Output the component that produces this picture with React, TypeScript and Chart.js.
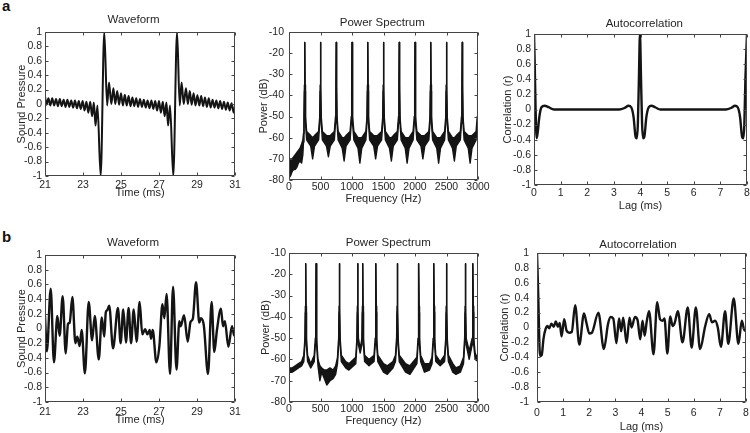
import React, { useEffect, useRef } from 'react';
import { Chart, registerables } from 'chart.js';

Chart.register(...registerables);

const FONT = "'Liberation Sans', Arial, Helvetica, sans-serif";
const TEXT = '#262626';
const INK = '#141414';

// ---------- Row a: periodic pulse train ----------
const waveA_t = [21.00,21.08,21.18,21.28,21.38,21.48,21.58,21.68,21.78,21.88,21.98,22.08,22.18,22.28,22.38,22.48,22.58,22.68,22.78,22.88,22.98,23.08,23.18,23.28,23.38,23.48,23.57,23.66,23.76,23.93,24.12,24.27,24.37,24.49,24.60,24.70,24.80,24.90,25.00,25.10,25.20,25.30,25.40,25.50,25.60,25.70,25.80,25.90,26.00,26.10,26.20,26.30,26.40,26.50,26.60,26.70,26.80,26.90,27.00,27.10,27.20,27.30,27.39,27.48,27.58,27.75,27.95,28.09,28.19,28.30,28.42,28.52,28.62,28.72,28.82,28.92,29.02,29.12,29.22,29.32,29.42,29.52,29.62,29.72,29.82,29.92,30.02,30.12,30.22,30.32,30.42,30.52,30.62,30.72,30.82,30.93,31.00];
const waveA_y = [0.11,-0.01,0.08,-0.02,0.08,-0.02,0.07,-0.03,0.07,-0.03,0.06,-0.04,0.06,-0.04,0.05,-0.05,0.05,-0.06,0.04,-0.07,0.04,-0.09,0.03,-0.12,0.03,-0.17,0.02,-0.30,-0.02,-1.00,1.00,-0.02,0.30,0.00,0.22,0.00,0.18,-0.01,0.15,-0.02,0.13,-0.02,0.11,-0.03,0.09,-0.03,0.08,-0.04,0.07,-0.04,0.06,-0.05,0.05,-0.06,0.05,-0.07,0.04,-0.09,0.04,-0.12,0.03,-0.17,0.02,-0.30,-0.02,-1.00,1.00,-0.02,0.30,0.00,0.22,0.00,0.18,-0.01,0.15,-0.02,0.12,-0.02,0.11,-0.03,0.09,-0.04,0.08,-0.05,0.06,-0.05,0.05,-0.06,0.04,-0.07,0.03,-0.08,0.02,-0.09,0.01,-0.12,-0.03];

const specA_f = [0,25,50,75,100,125,150,175,200,220,230,
  238,245,250,255,262,280,345,375,405,470,
  488,495,500,505,512,530,595,625,655,720,
  738,745,750,755,762,780,845,875,905,970,
  988,995,1000,1005,1012,1030,1095,1125,1155,1220,
  1238,1245,1250,1255,1262,1280,1345,1375,1405,1470,
  1488,1495,1500,1505,1512,1530,1595,1625,1655,1720,
  1738,1745,1750,1755,1762,1780,1845,1875,1905,1970,
  1988,1995,2000,2005,2012,2030,2095,2125,2155,2220,
  2238,2245,2250,2255,2262,2280,2345,2375,2405,2470,
  2488,2495,2500,2505,2512,2530,2595,2625,2655,2720,
  2738,2745,2750,2755,2762,2780,2845,2875,2905,2970,
  2988,2995,3000];
const specA_hi = [-72,-70,-70,-69,-68,-67,-66,-65,-63,-61,-58,
  -50,-35,-15,-35,-50,-57,-59,-60,-59,-57,
  -50,-35,-15,-35,-50,-57,-59,-59,-59,-57,
  -50,-35,-15,-35,-50,-57,-60,-60,-59,-57,
  -50,-35,-15,-35,-50,-57,-60,-60,-60,-57,
  -50,-35,-15,-35,-50,-57,-59,-59,-59,-57,
  -50,-35,-15,-35,-50,-57,-60,-60,-59,-57,
  -50,-35,-15,-35,-50,-57,-60,-60,-60,-57,
  -50,-35,-15,-35,-50,-57,-59,-59,-59,-57,
  -50,-35,-15,-35,-50,-57,-60,-60,-60,-57,
  -50,-35,-15,-35,-50,-57,-60,-60,-59,-57,
  -50,-35,-15,-35,-50,-57,-59,-59,-59,-57,
  -50,-35,-15];
const specA_lo = [-79,-78,-76,-75,-75,-74,-72,-71,-72,-68,-62,
  -53,-38,-15,-38,-53,-61,-64,-70,-64,-61,
  -53,-38,-15,-38,-53,-61,-64,-69,-64,-61,
  -53,-38,-15,-38,-53,-61,-65,-71,-64,-61,
  -53,-38,-15,-38,-53,-61,-65,-72,-65,-61,
  -53,-38,-15,-38,-53,-61,-64,-70,-64,-61,
  -53,-38,-15,-38,-53,-61,-65,-71,-64,-61,
  -53,-38,-15,-38,-53,-61,-65,-72,-65,-61,
  -53,-38,-15,-38,-53,-61,-64,-70,-64,-61,
  -53,-38,-15,-38,-53,-61,-65,-72,-65,-61,
  -53,-38,-15,-38,-53,-61,-65,-71,-64,-61,
  -53,-38,-15,-38,-53,-61,-65,-72,-65,-61,
  -53,-38,-15];

const lagA = [0,0.03,0.06,0.1,0.14,0.2,0.28,0.4,0.55,0.75,1.5,2.5,3.2,3.4,3.55,3.65,3.74,3.81,3.86,3.9,3.94,3.98,4.02,4.06,4.1,4.15,4.22,4.31,4.41,4.55,4.75,5.5,6.5,7.2,7.4,7.55,7.65,7.74,7.81,7.86,7.9,7.94,8.0];
const acA = [1,0.55,0,-0.38,-0.3,-0.1,0.03,0.05,0.03,0,0,0,0,0.02,0.05,0.03,-0.1,-0.35,-0.38,-0.2,0.4,1,0.4,-0.2,-0.38,-0.35,-0.1,0.03,0.05,0.03,0,0,0,0,0.02,0.05,0.03,-0.1,-0.35,-0.38,-0.2,0.4,1];

// ---------- Row b: inharmonic complex ----------
const waveB_t = [21.00,21.10,21.30,21.47,21.65,21.77,21.93,22.09,22.21,22.30,22.44,22.60,22.70,22.82,22.93,23.10,23.30,23.48,23.62,23.83,23.99,24.12,24.20,24.28,24.38,24.58,24.84,24.98,25.12,25.26,25.40,25.53,25.67,25.82,25.98,26.12,26.27,26.39,26.51,26.58,26.67,26.86,27.02,27.18,27.28,27.40,27.58,27.74,27.92,28.07,28.14,28.32,28.51,28.66,28.78,28.95,29.12,29.20,29.36,29.58,29.77,29.91,30.05,30.26,30.37,30.47,30.65,30.84,30.95,31.00];
const waveB_y = [0.17,-0.31,0.54,-0.46,0.17,-0.10,0.44,-0.34,0.06,0.08,0.43,-0.20,-0.11,-0.24,-0.02,-0.61,0.36,-0.16,0.17,-0.42,0.15,-0.11,0.22,0.25,0.31,-0.27,0.28,-0.20,0.26,-0.19,0.28,-0.20,0.26,-0.18,0.36,-0.08,-0.01,-0.08,-0.02,-0.14,-0.02,-0.46,-0.24,0.33,0.14,0.47,-0.62,0.57,-0.56,0.10,0.03,0.18,-0.18,0.09,0.13,0.63,0.08,0.14,0.04,-0.62,0.36,-0.32,-0.02,0.27,0.03,0.10,-0.25,0.03,-0.09,-0.10];

const specB_f = [0,50,100,150,200,235,
  253,260,265,270,277,
  295,345,400,
  418,425,430,435,442,
  460,490,520,560,600,650,700,740,770,
  788,795,800,805,812,
  830,900,950,1060,
  1078,1085,1090,1095,1102,
  1130,
  1158,1165,1170,1175,1182,
  1200,1270,1350,
  1368,1375,1380,1385,1392,
  1410,1500,1560,1650,1690,
  1708,1715,1720,1725,1732,
  1750,1850,1920,2030,
  2048,2055,2060,2065,2072,
  2090,2150,2230,2270,
  2288,2295,2300,2305,2312,
  2330,2400,2470,
  2488,2495,2500,2505,2512,
  2530,2600,2650,2720,2770,
  2788,2795,2800,2805,2812,
  2860,
  2908,2915,2920,2925,2932,
  2955,3000];
const specB_hi = [-64,-64,-63,-62,-61,-58,
  -50,-35,-15,-35,-50,
  -58,-62,-58,
  -50,-35,-15,-35,-50,
  -60,-63,-64,-65,-65,-64,-65,-63,-59,
  -50,-35,-15,-35,-50,
  -58,-61,-62,-59,
  -50,-35,-15,-35,-50,
  -55,
  -50,-35,-15,-35,-50,
  -58,-60,-58,
  -50,-35,-15,-35,-50,
  -58,-62,-63,-61,-58,
  -50,-35,-15,-35,-50,
  -58,-62,-63,-59,
  -50,-35,-15,-35,-50,
  -58,-62,-62,-59,
  -50,-35,-15,-35,-50,
  -58,-61,-58,
  -50,-35,-15,-35,-50,
  -58,-62,-64,-63,-59,
  -50,-35,-15,-35,-50,
  -56,
  -50,-35,-15,-35,-50,
  -57,-60];
const specB_lo = [-66,-66,-65,-64,-63,-61,
  -53,-38,-15,-38,-53,
  -61,-64,-61,
  -53,-38,-15,-38,-53,
  -63,-70,-66,-69,-72,-70,-69,-67,-62,
  -53,-38,-15,-38,-53,
  -61,-64,-65,-62,
  -53,-38,-15,-38,-53,
  -57,
  -53,-38,-15,-38,-53,
  -61,-63,-61,
  -53,-38,-15,-38,-53,
  -61,-66,-67,-64,-61,
  -53,-38,-15,-38,-53,
  -61,-66,-67,-62,
  -53,-38,-15,-38,-53,
  -61,-66,-65,-62,
  -53,-38,-15,-38,-53,
  -61,-63,-61,
  -53,-38,-15,-38,-53,
  -61,-66,-67,-66,-62,
  -53,-38,-15,-38,-53,
  -60,
  -53,-38,-15,-38,-53,
  -60,-61];

const lagB = [0,0.05,0.10,0.13,0.18,0.25,0.33,0.40,0.47,0.55,0.64,0.72,0.80,0.87,0.94,1.04,1.13,1.23,1.33,1.46,1.62,1.80,1.90,2.00,2.10,2.35,2.56,2.72,2.82,2.92,3.04,3.14,3.22,3.30,3.43,3.54,3.62,3.75,3.85,3.95,4.04,4.12,4.20,4.29,4.46,4.60,4.71,4.80,4.88,4.99,5.10,5.19,5.27,5.39,5.57,5.77,5.92,6.08,6.24,6.44,6.59,6.70,6.82,6.92,7.04,7.20,7.32,7.53,7.71,7.84,7.94,8.00];
const acB = [1.00,0.40,-0.30,-0.38,-0.37,-0.15,-0.02,0.02,-0.01,0.05,0.01,0.08,0.01,0.06,-0.12,0.11,-0.04,-0.07,-0.06,0.30,-0.23,0.19,0.05,-0.08,-0.07,0.20,-0.29,0.05,0.14,0.12,-0.21,0.12,-0.05,0.13,-0.21,0.13,0.00,0.14,0.10,-0.16,0.09,-0.11,0.08,0.22,-0.36,0.34,0.11,0.09,0.12,-0.35,0.15,0.02,0.06,0.22,-0.20,0.27,-0.27,0.27,-0.29,0.02,0.18,0.07,0.09,0.00,-0.26,0.22,-0.22,0.39,-0.22,0.09,-0.04,-0.02];

// axis ranges
const waveX = { min: 21, max: 31, step: 2 };
const specX = { min: 0, max: 3000, step: 500 };
const lagX = { min: 0, max: 8, step: 1 };
const corrY = { min: -1, max: 1, step: 0.2 };
const dbY = { min: -80, max: -10, step: 10 };

const zip = (xs: number[], ys: number[]) => xs.map((x, i) => ({ x, y: ys[i] }));

const traceDs = (xs: number[], ys: number[], width = 2.4) => ({
  data: zip(xs, ys),
  borderColor: INK,
  borderWidth: width,
  pointRadius: 0,
  fill: false,
  cubicInterpolationMode: 'monotone',
  borderJoinStyle: 'round',
  borderCapStyle: 'round',
});

const bandDs = (xs: number[], hi: number[], lo: number[]) => [
  { data: zip(xs, hi), borderColor: INK, borderWidth: 1.4, pointRadius: 0, fill: '+1', backgroundColor: INK, tension: 0, borderJoinStyle: 'round' },
  { data: zip(xs, lo), borderColor: INK, borderWidth: 1.4, pointRadius: 0, fill: false, tension: 0, borderJoinStyle: 'round' },
];

const framePlugin = {
  id: 'panelFrame',
  afterDatasetsDraw(chart: any) {
    const { ctx, chartArea: a, scales } = chart;
    const l = Math.round(a.left) + 0.5;
    const r = Math.round(a.right) - 0.5;
    const t = Math.round(a.top) + 0.5;
    const b = Math.round(a.bottom) - 0.5;
    ctx.save();
    ctx.strokeStyle = '#444';
    ctx.lineWidth = 1;
    ctx.beginPath();
    ctx.rect(l, t, r - l, b - t);
    for (const tk of scales.x.ticks) {
      const px = Math.round(scales.x.getPixelForValue(tk.value)) + 0.5;
      ctx.moveTo(px, b); ctx.lineTo(px, b - 3);
      ctx.moveTo(px, t); ctx.lineTo(px, t + 3);
    }
    for (const tk of scales.y.ticks) {
      const py = Math.round(scales.y.getPixelForValue(tk.value)) + 0.5;
      ctx.moveTo(l, py); ctx.lineTo(l + 3, py);
      ctx.moveTo(r, py); ctx.lineTo(r - 3, py);
    }
    ctx.stroke();
    ctx.restore();
  },
};

// panel title drawn at a chosen position above the axes box
const titlePlugin = {
  id: 'panelTitle',
  afterDraw(chart: any, _args: any, opts: any) {
    if (!opts || !opts.text) return;
    const { ctx } = chart;
    ctx.save();
    ctx.fillStyle = TEXT;
    ctx.font = `11.5px ${FONT}`;
    ctx.textAlign = 'center';
    ctx.textBaseline = 'middle';
    ctx.fillText(opts.text, opts.x, opts.y);
    ctx.restore();
  },
};

const fmt = (v: any) => String(Math.round(Number(v) * 100) / 100);

type PanelCfg = {
  L: number; R: number; T: number; B: number;
  title: string; titleGap: number; titleX: number;
  xTitle: string; xTitleGap: number; xLabelPad: number;
  yTitle: string; yTitleX: number; yLabelPad: number;
  xr: { min: number; max: number; step: number };
  yr: { min: number; max: number; step: number };
  datasets: any[];
};

const Y_W = 45, TITLE_H = 30, X_H = 32, PAD_R = 16;

function buildConfig(c: PanelCfg): any {
  const axLH = 11 * 1.2;
  const canvasLeft = c.L - Y_W;
  const canvasTop = c.T - TITLE_H;
  const yTitlePad = c.yTitleX - canvasLeft - axLH / 2;
  const xTitlePad = X_H - c.xTitleGap - axLH / 2;
  return {
    type: 'line',
    data: { datasets: c.datasets },
    options: {
      animation: false,
      responsive: false,
      events: [],
      layout: { padding: { left: 0, right: PAD_R, top: TITLE_H, bottom: 0 } },
      plugins: {
        legend: { display: false },
        tooltip: { enabled: false },
        title: { display: false },
        panelTitle: { text: c.title, x: c.titleX - canvasLeft, y: (c.T - c.titleGap) - canvasTop },
      },
      scales: {
        x: {
          type: 'linear', min: c.xr.min, max: c.xr.max,
          grid: { display: false, drawTicks: false },
          border: { display: false },
          ticks: { stepSize: c.xr.step, autoSkip: false, maxRotation: 0, padding: c.xLabelPad, color: TEXT, font: { family: FONT, size: 10.5 }, callback: fmt },
          title: { display: true, text: c.xTitle, color: TEXT, font: { family: FONT, size: 11, lineHeight: 1.2 }, padding: { top: 0, bottom: xTitlePad } },
          afterFit: (s: any) => { s.height = X_H; },
        },
        y: {
          type: 'linear', min: c.yr.min, max: c.yr.max,
          grid: { display: false, drawTicks: false },
          border: { display: false },
          ticks: { stepSize: c.yr.step, autoSkip: false, padding: c.yLabelPad, color: TEXT, font: { family: FONT, size: 10.5 }, callback: fmt },
          title: { display: true, text: c.yTitle, color: TEXT, font: { family: FONT, size: 11, lineHeight: 1.2 }, padding: { top: yTitlePad, bottom: 0 } },
          afterFit: (s: any) => { s.width = Y_W; },
        },
      },
    },
    plugins: [framePlugin, titlePlugin],
  };
}

const panels: PanelCfg[] = [
  { L: 45, R: 235, T: 32, B: 176, title: 'Waveform', titleGap: 12, titleX: 133.5, xTitle: 'Time (ms)', xTitleGap: 16.5, xLabelPad: 3,
    yTitle: 'Sound Pressure', yTitleX: 22, yLabelPad: 3, xr: waveX, yr: corrY, datasets: [traceDs(waveA_t, waveA_y, 2.0)] },
  { L: 289, R: 478, T: 32, B: 180, title: 'Power Spectrum', titleGap: 8.7, titleX: 382.3, xTitle: 'Frequency (Hz)', xTitleGap: 19, xLabelPad: 1,
    yTitle: 'Power (dB)', yTitleX: 264, yLabelPad: 5, xr: specX, yr: dbY, datasets: bandDs(specA_f, specA_hi, specA_lo) },
  { L: 534, R: 747, T: 34, B: 185, title: 'Autocorrelation', titleGap: 9.7, titleX: 644.3, xTitle: 'Lag (ms)', xTitleGap: 21, xLabelPad: 2,
    yTitle: 'Correlation (r)', yTitleX: 508, yLabelPad: 3, xr: lagX, yr: corrY, datasets: [traceDs(lagA, acA)] },
  { L: 45, R: 235, T: 255, B: 402, title: 'Waveform', titleGap: 11.7, titleX: 133, xTitle: 'Time (ms)', xTitleGap: 18, xLabelPad: 4,
    yTitle: 'Sound Pressure', yTitleX: 22, yLabelPad: 3, xr: waveX, yr: corrY, datasets: [traceDs(waveB_t, waveB_y)] },
  { L: 289, R: 478, T: 253, B: 402, title: 'Power Spectrum', titleGap: 9.7, titleX: 388.3, xTitle: 'Frequency (Hz)', xTitleGap: 19, xLabelPad: 1,
    yTitle: 'Power (dB)', yTitleX: 266, yLabelPad: 3, xr: specX, yr: dbY, datasets: bandDs(specB_f, specB_hi, specB_lo) },
  { L: 537, R: 746, T: 253, B: 402, title: 'Autocorrelation', titleGap: 8, titleX: 638, xTitle: 'Lag (ms)', xTitleGap: 25, xLabelPad: 5,
    yTitle: 'Correlation (r)', yTitleX: 504.5, yLabelPad: 8, xr: lagX, yr: corrY, datasets: [traceDs(lagB, acB)] },
];

function Panel({ cfg }: { cfg: PanelCfg }) {
  const ref = useRef<HTMLCanvasElement>(null);
  useEffect(() => {
    if (!ref.current) return;
    const chart = new Chart(ref.current, buildConfig(cfg));
    return () => chart.destroy();
  }, [cfg]);
  const left = cfg.L - Y_W;
  const top = cfg.T - TITLE_H;
  const w = cfg.R + PAD_R - left;
  const h = cfg.B + X_H - top;
  return (
    <canvas ref={ref} width={w} height={h}
      style={{ position: 'absolute', left, top, width: w, height: h, display: 'block' }} />
  );
}

export default function App() {
  const labelStyle: React.CSSProperties = {
    position: 'absolute', left: 2, fontFamily: FONT, fontWeight: 'bold', fontSize: 15, lineHeight: '15px', color: '#111',
  };
  return (
    <div style={{ position: 'fixed', left: 0, top: 0, width: 750, height: 433, overflow: 'hidden', background: '#fff' }}>
      <div style={{ ...labelStyle, top: -2 }}>a</div>
      <div style={{ ...labelStyle, top: 229 }}>b</div>
      {panels.map((p, i) => <Panel key={i} cfg={p} />)}
    </div>
  );
}
